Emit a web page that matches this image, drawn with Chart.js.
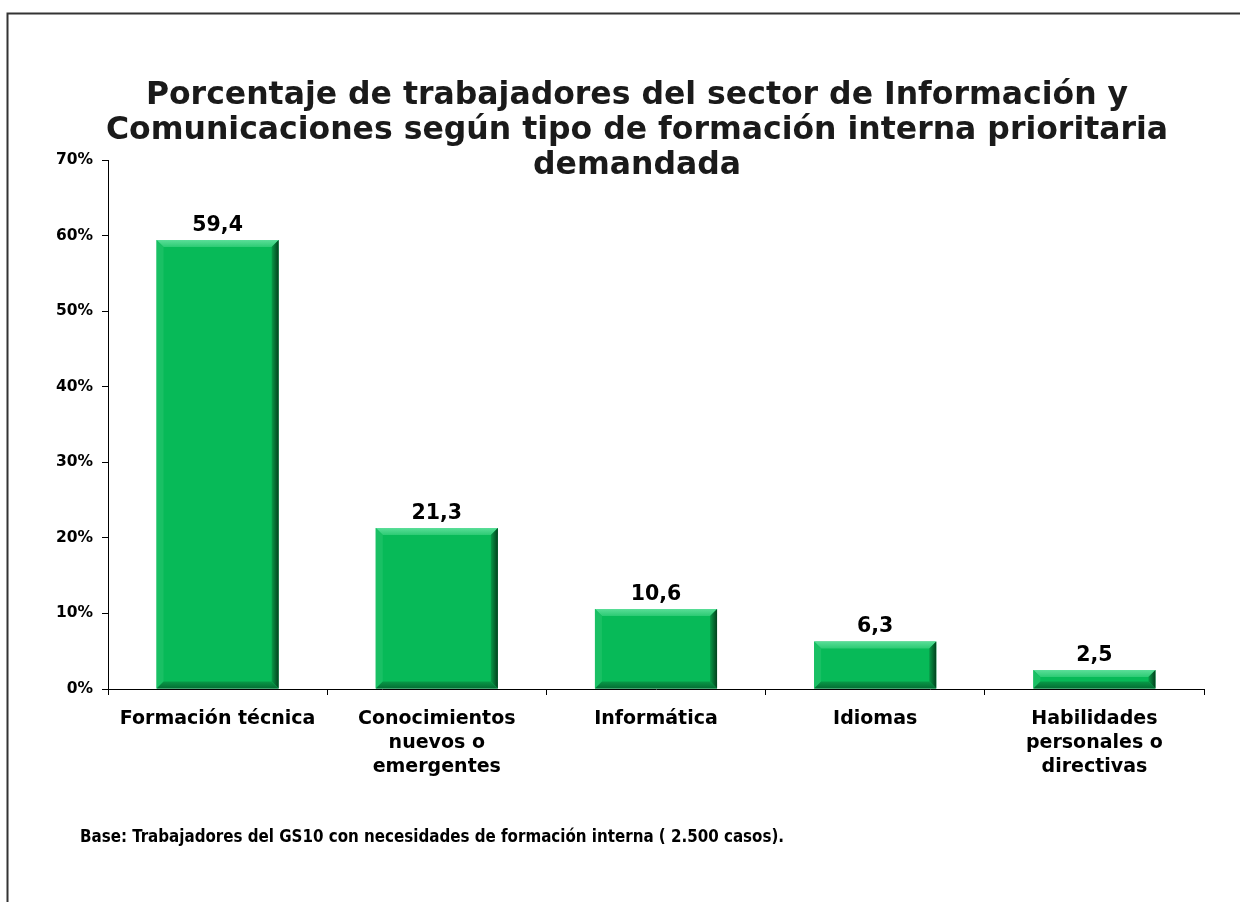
<!DOCTYPE html>
<html>
<head>
<meta charset="utf-8">
<script src="https://cdn.jsdelivr.net/npm/chart.js@4.4.1/dist/chart.umd.min.js"></script>
<style>
html,body{margin:0;padding:0;background:#fff;}
#wrap{position:relative;width:1240px;height:902px;}
</style>
</head>
<body>
<div id="wrap"><canvas id="c" width="1240" height="902"></canvas></div>
<script>
const categories = [
  "Formación técnica",
  ["Conocimientos", "nuevos o", "emergentes"],
  "Informática",
  "Idiomas",
  ["Habilidades", "personales o", "directivas"]
];
const values = [59.4, 21.3, 10.6, 6.3, 2.5];
const titleLines = [
  "Porcentaje de trabajadores del sector de Información y",
  "Comunicaciones según tipo de formación interna prioritaria",
  "demandada"
];
const footnote = "Base: Trabajadores del GS10 con necesidades de formación interna ( 2.500 casos).";
const yMax = 70, yStep = 10;

const COND = "'DejaVu Sans Condensed', 'DejaVu Sans', sans-serif";
const SANS = "'DejaVu Sans', sans-serif";

const decor = {
  id: 'decor',
  beforeDraw(chart) {
    const ctx = chart.ctx;
    ctx.save();
    ctx.fillStyle = '#fff';
    ctx.fillRect(0, 0, chart.width, chart.height);
    ctx.strokeStyle = '#333';
    ctx.lineWidth = 2;
    ctx.beginPath();
    ctx.moveTo(7.5, chart.height);
    ctx.lineTo(7.5, 13.5);
    ctx.lineTo(chart.width, 13.5);
    ctx.stroke();
    ctx.fillStyle = '#1a1a1a';
    ctx.font = "bold 31.5px " + SANS;
    ctx.textAlign = 'center';
    ctx.textBaseline = 'alphabetic';
    const bl = [104, 139, 174];
    titleLines.forEach((t, i) => ctx.fillText(t, 637, bl[i]));
    ctx.font = "bold 16.8px " + COND;
    ctx.textAlign = 'left';
    ctx.fillStyle = '#000';
    ctx.fillText(footnote, 80, 842);
    ctx.restore();
  },
  afterDatasetsDraw(chart) {
    const ctx = chart.ctx;
    const meta = chart.getDatasetMeta(0);
    ctx.save();
    meta.data.forEach((bar, i) => {
      const p = bar.getProps(['x', 'y', 'base', 'width'], true);
      const l = p.x - p.width / 2, r = p.x + p.width / 2, t = p.y, b = p.base;
      const h = b - t;
      const e = Math.min(7, h / 2.2);
      const gt = ctx.createLinearGradient(0, t, 0, t + e);
      gt.addColorStop(0, '#5ade98');
      gt.addColorStop(1, '#2ccb74');
      ctx.fillStyle = gt;
      ctx.beginPath();
      ctx.moveTo(l, t); ctx.lineTo(r, t); ctx.lineTo(r - e, t + e); ctx.lineTo(l + e, t + e); ctx.closePath(); ctx.fill();
      ctx.fillStyle = '#19c064';
      ctx.beginPath();
      ctx.moveTo(l, t); ctx.lineTo(l + e, t + e); ctx.lineTo(l + e, b - e); ctx.lineTo(l, b); ctx.closePath(); ctx.fill();
      const gr = ctx.createLinearGradient(r - e, 0, r, 0);
      gr.addColorStop(0, '#079a47');
      gr.addColorStop(1, '#02401d');
      ctx.fillStyle = gr;
      ctx.beginPath();
      ctx.moveTo(r, t); ctx.lineTo(r, b); ctx.lineTo(r - e, b - e); ctx.lineTo(r - e, t + e); ctx.closePath(); ctx.fill();
      const gb = ctx.createLinearGradient(0, b - e, 0, b);
      gb.addColorStop(0, '#079a47');
      gb.addColorStop(1, '#056d33');
      ctx.fillStyle = gb;
      ctx.beginPath();
      ctx.moveTo(l, b); ctx.lineTo(r, b); ctx.lineTo(r - e, b - e); ctx.lineTo(l + e, b - e); ctx.closePath(); ctx.fill();
      ctx.fillStyle = '#000';
      ctx.font = "bold 20.5px " + SANS;
      ctx.textAlign = 'center';
      ctx.textBaseline = 'alphabetic';
      ctx.fillText(values[i].toFixed(1).replace('.', ','), p.x, t - 9);
    });
    ctx.restore();
  }
};

new Chart(document.getElementById('c'), {
  type: 'bar',
  data: {
    labels: categories,
    datasets: [{
      data: values,
      backgroundColor: '#07ba58',
      borderWidth: 0,
      categoryPercentage: 1.0,
      barPercentage: 0.557
    }]
  },
  options: {
    responsive: false,
    animation: false,
    devicePixelRatio: 1,
    layout: { padding: { top: 160, right: 36, left: 0, bottom: 0 } },
    plugins: { legend: { display: false }, tooltip: { enabled: false }, title: { display: false } },
    scales: {
      x: {
        grid: { display: true, drawOnChartArea: false, drawTicks: true, tickLength: 6, color: '#000', offset: true },
        border: { display: true, color: '#000', width: 1 },
        ticks: {
          color: '#000',
          padding: 12,
          maxRotation: 0,
          autoSkip: false,
          font: { family: SANS, weight: 'bold', size: 19, lineHeight: 1.26 }
        },
        afterFit(scale) { scale.height = 213; }
      },
      y: {
        min: 0, max: yMax,
        grid: { display: true, drawOnChartArea: false, drawTicks: true, tickLength: 6, color: '#000' },
        border: { display: true, color: '#000', width: 1 },
        ticks: {
          stepSize: yStep,
          color: '#000',
          padding: 9,
          font: { family: SANS, weight: 'bold', size: 15.5 },
          callback: v => v + '%'
        },
        afterFit(scale) { scale.width = 108; }
      }
    }
  },
  plugins: [decor]
});
</script>
</body>
</html>
